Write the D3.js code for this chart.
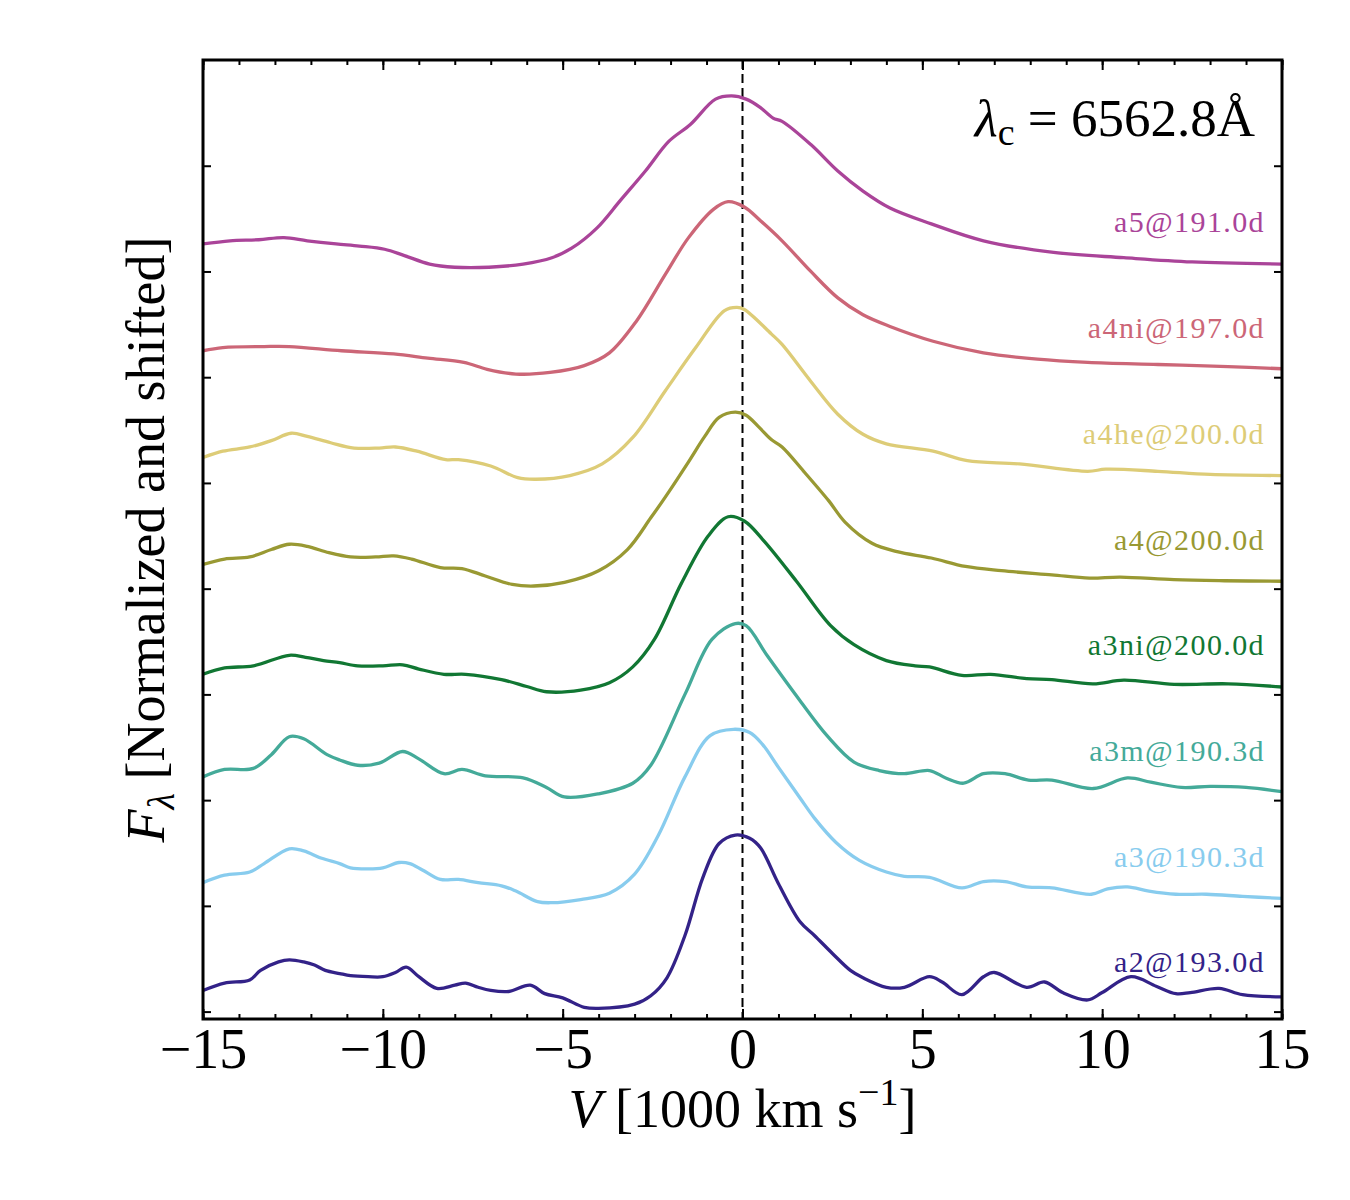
<!DOCTYPE html>
<html>
<head>
<meta charset="utf-8">
<script src="https://cdn.jsdelivr.net/npm/d3@7"></script>
<style>
  body { margin: 0; background: #fff; }
  svg text { font-family: "Liberation Serif", "Times New Roman", serif; }
</style>
</head>
<body>
<div id="chart"></div>
<script>
// series names, colours and vertical offsets (bottom to top)
var names = ["a2@193.0d", "a3@190.3d", "a3m@190.3d", "a3ni@200.0d", "a4@200.0d", "a4he@200.0d", "a4ni@197.0d", "a5@191.0d"];
var colors = ["#332288", "#88CCEE", "#44AA99", "#117733", "#999933", "#DDCC77", "#CC6677", "#AA4499"];
var offsets = [0, 1, 2, 3, 4, 5, 6, 7];

// [velocity (1000 km/s), normalized flux]
var a2 = [[-15,0.20],[-14.4,0.27],[-13.7,0.30],[-13.4,0.39],[-12.9,0.47],[-12.6,0.49],[-12.2,0.47],[-11.9,0.44],[-11.6,0.39],[-11.2,0.36],[-10.9,0.34],[-10.4,0.33],[-10.0,0.33],[-9.65,0.37],[-9.35,0.42],[-9.0,0.33],[-8.5,0.22],[-8.0,0.25],[-7.7,0.27],[-7.35,0.23],[-7.0,0.20],[-6.5,0.19],[-5.9,0.25],[-5.5,0.17],[-5.0,0.13],[-4.4,0.04],[-4.0,0.03],[-3.0,0.07],[-2.55,0.15],[-2.1,0.32],[-1.6,0.72],[-1.1,1.27],[-0.65,1.59],[-0.2,1.67],[0.2,1.64],[0.5,1.55],[1.0,1.21],[1.6,0.85],[2.0,0.72],[2.5,0.55],[3.0,0.39],[3.35,0.32],[4.0,0.23],[4.5,0.23],[5.2,0.33],[5.55,0.28],[6.1,0.16],[6.7,0.33],[7.0,0.37],[7.9,0.23],[8.4,0.28],[8.9,0.18],[9.6,0.11],[10.0,0.18],[10.8,0.33],[11.5,0.24],[12.05,0.17],[12.45,0.18],[13.25,0.22],[13.9,0.16],[15,0.14]];
var a3 = [[-15,0.22],[-14.4,0.29],[-13.7,0.32],[-13.3,0.40],[-12.6,0.54],[-12.2,0.52],[-11.7,0.45],[-11.2,0.40],[-10.9,0.36],[-10.4,0.35],[-10.0,0.36],[-9.55,0.41],[-9.25,0.40],[-8.9,0.34],[-8.4,0.25],[-7.9,0.25],[-7.35,0.22],[-6.7,0.19],[-6.3,0.14],[-5.7,0.04],[-5.3,0.03],[-4.5,0.06],[-3.7,0.12],[-3.0,0.30],[-2.35,0.66],[-1.6,1.22],[-0.9,1.61],[-0.25,1.67],[0.2,1.64],[0.55,1.53],[1.0,1.31],[1.6,1.02],[2.0,0.83],[2.6,0.60],[3.25,0.43],[4.0,0.32],[4.5,0.28],[5.2,0.27],[6.1,0.17],[6.7,0.23],[7.3,0.23],[7.9,0.18],[8.6,0.17],[9.7,0.11],[10.15,0.16],[10.7,0.18],[11.3,0.14],[12.05,0.11],[12.9,0.11],[13.9,0.09],[15,0.07]];
var a3m = [[-15,0.22],[-14.4,0.29],[-13.6,0.30],[-13.1,0.43],[-12.6,0.60],[-12.2,0.58],[-11.55,0.43],[-11.2,0.38],[-10.7,0.33],[-10.1,0.35],[-9.45,0.46],[-9.0,0.39],[-8.3,0.25],[-7.8,0.29],[-7.15,0.23],[-6.1,0.21],[-5.45,0.12],[-4.95,0.03],[-4.0,0.06],[-3.05,0.16],[-2.55,0.33],[-1.6,1.0],[-0.85,1.52],[-0.2,1.67],[0.1,1.65],[0.7,1.36],[1.6,0.94],[2.35,0.61],[3.1,0.36],[3.8,0.28],[4.5,0.25],[5.2,0.28],[5.65,0.21],[6.15,0.16],[6.7,0.25],[7.3,0.25],[7.95,0.19],[8.6,0.19],[9.75,0.11],[10.7,0.21],[11.35,0.17],[12.2,0.12],[13.0,0.13],[14.0,0.12],[15,0.08]];
var a3ni = [[-15,0.19],[-14.4,0.25],[-13.6,0.27],[-12.6,0.37],[-12.15,0.35],[-11.65,0.32],[-11.2,0.30],[-10.7,0.27],[-10.0,0.27],[-9.45,0.28],[-9.0,0.24],[-8.3,0.19],[-7.7,0.19],[-6.7,0.14],[-6.0,0.075],[-5.45,0.025],[-4.5,0.04],[-3.7,0.11],[-3.05,0.26],[-2.45,0.52],[-1.7,1.05],[-0.95,1.50],[-0.4,1.68],[0.05,1.64],[0.6,1.45],[1.5,1.07],[2.45,0.65],[3.1,0.47],[4.0,0.32],[4.8,0.27],[5.2,0.26],[6.1,0.18],[6.9,0.19],[7.9,0.15],[8.6,0.14],[9.75,0.10],[10.6,0.135],[12.0,0.095],[13.5,0.10],[15,0.07]];
var a4 = [[-15,0.23],[-14.4,0.28],[-13.7,0.30],[-13.1,0.37],[-12.6,0.42],[-12.1,0.40],[-11.5,0.34],[-10.9,0.30],[-10.2,0.30],[-9.7,0.31],[-9.2,0.28],[-8.4,0.20],[-7.8,0.19],[-7.15,0.12],[-6.4,0.04],[-5.8,0.025],[-4.95,0.06],[-4.0,0.17],[-3.2,0.37],[-2.55,0.67],[-2.1,0.89],[-1.5,1.20],[-1.05,1.44],[-0.65,1.62],[-0.2,1.67],[0.1,1.64],[0.45,1.53],[0.8,1.41],[1.1,1.34],[1.7,1.11],[2.4,0.83],[2.85,0.63],[3.6,0.43],[4.3,0.35],[5.25,0.29],[6.2,0.21],[7.2,0.17],[8.6,0.13],[9.65,0.10],[10.5,0.11],[12.0,0.085],[13.4,0.075],[15,0.07]];
var a4he = [[-15,0.24],[-14.45,0.30],[-13.7,0.34],[-13.1,0.40],[-12.55,0.47],[-12.1,0.44],[-11.45,0.38],[-10.8,0.33],[-10.1,0.33],[-9.65,0.34],[-9.05,0.30],[-8.25,0.22],[-7.9,0.22],[-7.0,0.16],[-6.25,0.05],[-5.75,0.035],[-4.8,0.07],[-3.9,0.18],[-3.05,0.43],[-2.15,0.87],[-1.3,1.28],[-0.5,1.63],[-0.15,1.66],[0.05,1.64],[0.8,1.41],[1.1,1.31],[1.9,0.96],[2.65,0.65],[3.35,0.46],[4.0,0.37],[5.3,0.30],[6.25,0.21],[7.7,0.18],[9.6,0.11],[10.1,0.13],[11.55,0.11],[13.0,0.08],[15,0.07]];
var a4ni = [[-15,0.25],[-14.45,0.28],[-13.3,0.29],[-12.6,0.29],[-11.15,0.25],[-9.7,0.22],[-8.75,0.18],[-7.75,0.14],[-7.1,0.075],[-6.3,0.03],[-5.35,0.045],[-4.4,0.11],[-3.7,0.23],[-2.95,0.53],[-2.15,0.97],[-1.5,1.32],[-0.8,1.59],[-0.4,1.66],[0.05,1.61],[0.5,1.48],[1.1,1.29],[1.9,1.0],[2.65,0.75],[3.35,0.59],[4.1,0.48],[5.3,0.34],[6.7,0.23],[8.2,0.17],[9.6,0.14],[11.55,0.12],[13.5,0.10],[15,0.08]];
var a5 = [[-15,0.26],[-14.25,0.29],[-13.45,0.30],[-12.75,0.32],[-12.1,0.29],[-11.3,0.26],[-10.65,0.24],[-9.95,0.21],[-9.4,0.15],[-8.7,0.07],[-8.0,0.04],[-7.05,0.04],[-6.1,0.07],[-5.3,0.13],[-4.75,0.22],[-4.05,0.41],[-3.4,0.67],[-2.7,0.95],[-2.05,1.23],[-1.45,1.39],[-0.75,1.63],[-0.3,1.66],[0.1,1.63],[0.5,1.55],[0.85,1.45],[1.1,1.42],[1.9,1.20],[2.65,0.95],[3.35,0.76],[4.1,0.60],[5.25,0.45],[6.7,0.29],[8.65,0.18],[10.6,0.13],[12.5,0.09],[15,0.07]];
var spectra = [a2, a3, a3m, a3ni, a4, a4he, a4ni, a5];

// axis ticks
var xMajor = [-15, -10, -5, 0, 5, 10, 15];
var xMinor = d3.range(-15, 16, 1);
var yTicks = [0, 1, 2, 3, 4, 5, 6, 7, 8];

var W = 1350, H = 1200;
var pLeft = 203, pRight = 1282, pTop = 60, pBottom = 1019;
var labelFont = "Liberation Serif, Times New Roman, serif";

var svg = d3.select("#chart").append("svg").attr("width", W).attr("height", H);

var x = d3.scaleLinear().domain([-15, 15]).range([pLeft, pRight]);
var y = d3.scaleLinear().domain([-0.07, 9.0]).range([pBottom, pTop]);

svg.append("clipPath").attr("id", "plotclip")
	.append("rect").attr("x", pLeft).attr("y", pTop).attr("width", pRight - pLeft).attr("height", pBottom - pTop);

// dashed line at zero velocity
svg.append("line")
	.attr("x1", x(0)).attr("x2", x(0))
	.attr("y1", pTop).attr("y2", pBottom)
	.attr("stroke", "#000").attr("stroke-width", 2)
	.attr("stroke-dasharray", "9,5");

var line = d3.line()
	.x(function(d) { return x(d[0]); })
	.y(function(d) { return y(d[1]); })
	.curve(d3.curveCatmullRom.alpha(0.5));

var plot = svg.append("g").attr("clip-path", "url(#plotclip)");

spectra.forEach(function(s, i) {
	var shifted = s.map(function(d) { return [d[0], d[1] + offsets[i]]; });
	plot.append("path")
		.datum(shifted)
		.attr("d", line)
		.attr("fill", "none")
		.attr("stroke", colors[i])
		.attr("stroke-width", 3.3)
		.attr("stroke-linejoin", "round");

	svg.append("text")
		.attr("x", 1265)
		.attr("y", y(offsets[i] + 0.37))
		.attr("text-anchor", "end")
		.attr("font-size", 30)
		.attr("letter-spacing", "1.4px")
		.attr("fill", colors[i])
		.text(names[i]);
});

// axes with inward ticks
function styleAxis(g) {
	g.select(".domain").remove();
	g.selectAll(".tick line").attr("stroke", "#000").attr("stroke-width", 2);
}

svg.append("g").attr("transform", "translate(0," + pBottom + ")")
	.call(d3.axisBottom(x).tickValues(xMinor).tickSize(-5).tickFormat(""))
	.call(styleAxis);
svg.append("g").attr("transform", "translate(0," + pBottom + ")")
	.call(d3.axisBottom(x).tickValues(xMajor).tickSize(-10).tickPadding(9)
		.tickFormat(function(d) { return d < 0 ? "\u2212" + Math.abs(d) : d; }))
	.call(styleAxis)
	.call(function(g) {
		g.selectAll("text").attr("font-size", 56).attr("font-family", labelFont).attr("fill", "#000");
	});
svg.append("g").attr("transform", "translate(0," + pTop + ")")
	.call(d3.axisTop(x).tickValues(xMinor).tickSize(-5).tickFormat(""))
	.call(styleAxis);
svg.append("g").attr("transform", "translate(0," + pTop + ")")
	.call(d3.axisTop(x).tickValues(xMajor).tickSize(-10).tickFormat(""))
	.call(styleAxis);
svg.append("g").attr("transform", "translate(" + pLeft + ",0)")
	.call(d3.axisLeft(y).tickValues(yTicks).tickSize(-8).tickFormat(""))
	.call(styleAxis);
svg.append("g").attr("transform", "translate(" + pRight + ",0)")
	.call(d3.axisRight(y).tickValues(yTicks).tickSize(-8).tickFormat(""))
	.call(styleAxis);

// frame
svg.append("rect")
	.attr("x", pLeft).attr("y", pTop)
	.attr("width", pRight - pLeft).attr("height", pBottom - pTop)
	.attr("fill", "none").attr("stroke", "#000").attr("stroke-width", 3);

// x label
var xl = svg.append("text")
	.attr("x", (pLeft + pRight) / 2).attr("y", 1127)
	.attr("text-anchor", "middle").attr("font-size", 54);
xl.append("tspan").attr("font-style", "italic").text("V");
xl.append("tspan").text(" [1000 km s");
xl.append("tspan").attr("font-size", 38).attr("dy", -22).text("\u22121");
xl.append("tspan").attr("dy", 22).text("]");

// y label
var yl = svg.append("text")
	.attr("transform", "translate(164," + ((pTop + pBottom) / 2) + ") rotate(-90)")
	.attr("text-anchor", "middle").attr("font-size", 54);
yl.append("tspan").attr("font-style", "italic").text("F");
yl.append("tspan").attr("font-style", "italic").attr("font-size", 38).attr("dy", 10).text("\u03bb");
yl.append("tspan").attr("dy", -10).text(" [Normalized and shifted]");

// rest wavelength annotation
var ann = svg.append("text")
	.attr("x", 1255).attr("y", 136)
	.attr("text-anchor", "end").attr("font-size", 53);
ann.append("tspan").attr("font-style", "italic").text("\u03bb");
ann.append("tspan").attr("font-size", 38).attr("dy", 9).text("c");
ann.append("tspan").attr("dy", -9).text(" = 6562.8\u00c5");
</script>
</body>
</html>
